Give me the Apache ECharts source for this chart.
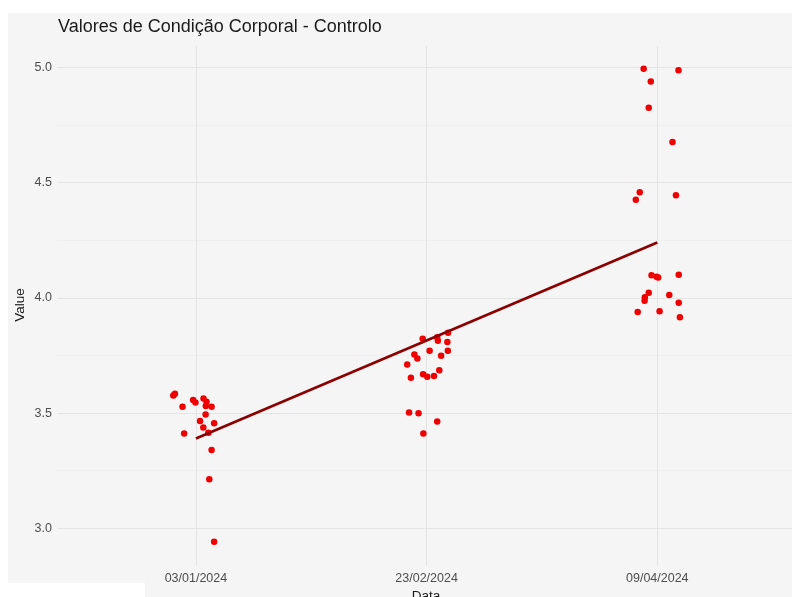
<!DOCTYPE html>
<html>
<head>
<meta charset="utf-8">
<script src="https://cdn.jsdelivr.net/npm/echarts@6/dist/echarts.min.js"></script>
<style>
  html, body { margin: 0; padding: 0; background: #ffffff; }
  #chart { width: 792px; height: 597px; }
</style>
</head>
<body>
<div id="chart"></div>
<script>
// Sampling dates (discrete x positions 1, 2, 3)
const dates = ['03/01/2024', '23/02/2024', '09/04/2024'];

// Body condition values per date, with the horizontal jitter of each point
const jitter1 = [-0.098, -0.091, -0.058, -0.012, -0.002, 0.033, 0.046, 0.043, 0.068, 0.042, 0.018, 0.079, 0.032, -0.051, 0.054, 0.068, 0.058, 0.079];
const value1  = [3.576, 3.584, 3.528, 3.557, 3.546, 3.563, 3.549, 3.531, 3.528, 3.494, 3.466, 3.456, 3.437, 3.411, 3.415, 3.340, 3.213, 2.942];

const jitter2 = [-0.017, 0.046, 0.049, 0.093, 0.090, 0.092, 0.013, 0.063, -0.053, -0.040, -0.084, 0.055, -0.015, 0.003, 0.032, -0.068, -0.076, -0.035, 0.046, -0.014];
const value2  = [3.823, 3.829, 3.814, 3.849, 3.808, 3.770, 3.770, 3.749, 3.754, 3.737, 3.711, 3.686, 3.668, 3.658, 3.661, 3.653, 3.503, 3.499, 3.464, 3.411];

const jitter3 = [-0.059, 0.092, -0.028, -0.037, 0.066, -0.076, -0.093, 0.081, -0.025, -0.003, 0.004, 0.093, -0.037, -0.054, -0.055, 0.052, 0.093, -0.085, 0.010, 0.098];
const value3  = [4.994, 4.987, 4.938, 4.825, 4.676, 4.458, 4.426, 4.445, 4.098, 4.092, 4.088, 4.100, 4.022, 4.002, 3.987, 4.012, 3.979, 3.938, 3.942, 3.916];

// Linear trend: fitted value at the first and at the last date
const trendStart = 3.39;
const trendEnd = 4.24;

// Y tick labels and grid lines
const yTicks = [3.0, 3.5, 4.0, 4.5, 5.0];
const yMinor = [3.25, 3.75, 4.25, 4.75];

const jitterGroups = [jitter1, jitter2, jitter3];
const valueGroups = [value1, value2, value3];
const points = [];
valueGroups.forEach((vals, g) => {
  vals.forEach((v, i) => points.push([g + 1 + jitterGroups[g][i], v]));
});

const font = "'Liberation Sans', Arial, sans-serif";
const chart = echarts.init(document.getElementById('chart'), null, { renderer: 'canvas' });

chart.setOption({
  backgroundColor: '#ffffff',
  animation: false,
  graphic: [
    { type: 'rect', z: -10, silent: true, shape: { x: 8, y: 13, width: 784, height: 584 }, style: { fill: '#f5f5f5' } },
    { type: 'rect', z: 100, silent: true, shape: { x: 0, y: 583, width: 145, height: 14 }, style: { fill: '#ffffff' } },
    { type: 'text', z: 50, silent: true, left: 58, top: 18,
      style: { text: 'Valores de Condição Corporal - Controlo', font: "18px " + font, fill: '#1a1a1a' } },
    { type: 'text', z: 50, silent: true, x: 20, y: 305, rotation: Math.PI / 2,
      style: { text: 'Value', font: "13.5px " + font, fill: '#1a1a1a', align: 'center', verticalAlign: 'middle' } },
    { type: 'text', z: 50, silent: true, x: 426, y: 596,
      style: { text: 'Data', font: "13.5px " + font, fill: '#1a1a1a', align: 'center', verticalAlign: 'middle' } }
  ],
  grid: { left: 57.5, right: 0, top: 46, bottom: 31.2, containLabel: false },
  xAxis: {
    type: 'value', min: 0.4, max: 3.584,
    axisLine: { show: false }, axisTick: { show: false }, splitLine: { show: false },
    axisLabel: {
      customValues: [1, 2, 3], margin: 6,
      formatter: v => dates[Math.round(v) - 1] || '',
      color: '#4d4d4d', fontSize: 12.5, fontFamily: font
    }
  },
  yAxis: {
    type: 'value', min: 2.8375, max: 5.0925,
    axisLine: { show: false }, axisTick: { show: false }, splitLine: { show: false },
    axisLabel: {
      customValues: yTicks, margin: 5.5,
      formatter: v => v.toFixed(1),
      color: '#4d4d4d', fontSize: 12.5, fontFamily: font
    }
  },
  series: [
    {
      name: 'grid', type: 'line', data: [], z: 0, silent: true,
      markLine: {
        z: 0, silent: true, symbol: ['none', 'none'], animation: false,
        label: { show: false },
        emphasis: { disabled: true },
        data: [
          ...yMinor.map(v => ({ yAxis: v, lineStyle: { color: '#ededed', width: 0.7, type: 'solid' } })),
          ...yTicks.map(v => ({ yAxis: v, lineStyle: { color: '#e4e4e4', width: 1, type: 'solid' } })),
          ...[1, 2, 3].map(v => ({ xAxis: v, lineStyle: { color: '#e4e4e4', width: 1, type: 'solid' } }))
        ]
      }
    },
    {
      name: 'Value', type: 'scatter', data: points, z: 3,
      symbol: 'circle', symbolSize: 6.5,
      itemStyle: { color: '#ee0000', opacity: 1 }
    },
    {
      name: 'trend', type: 'line', z: 4,
      data: [[1, trendStart], [3, trendEnd]],
      showSymbol: false, symbol: 'none',
      lineStyle: { color: '#8b0000', width: 2.6 }
    }
  ]
});
</script>
</body>
</html>
